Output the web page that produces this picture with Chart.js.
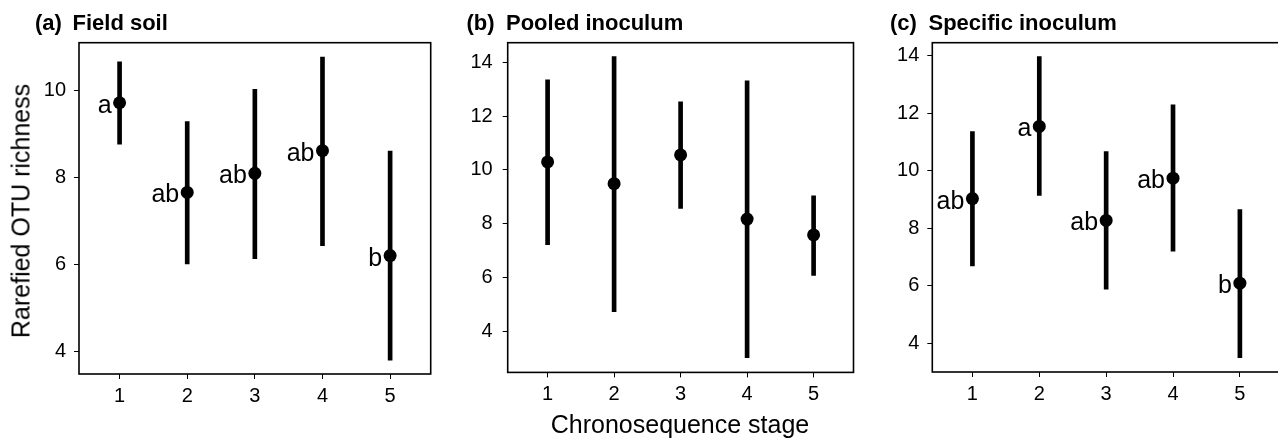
<!DOCTYPE html>
<html lang="en">
<head>
<meta charset="UTF-8">
<title>Rarefied OTU richness by chronosequence stage</title>
<script src="https://cdn.jsdelivr.net/npm/chart.js"></script>
<style>
  body { margin: 0; background: #fff; overflow: hidden; }
  #wrap { position: relative; width: 1278px; height: 439px; overflow: hidden;
          font-family: "Liberation Sans", Arial, sans-serif; color: #000; }
  canvas { position: absolute; top: 0; }
  .t { position: absolute; top: 12px; font-weight: bold; font-size: 22px; line-height: 22px; white-space: nowrap; }
  .axis { position: absolute; font-size: 25px; line-height: 25px; white-space: nowrap; }
</style>
</head>
<body>
<div id="wrap">
  <canvas id="panelA" width="440" height="439" style="left:0px"></canvas>
  <canvas id="panelB" width="420" height="439" style="left:440px"></canvas>
  <canvas id="panelC" width="430" height="439" style="left:860px"></canvas>

  <div class="t" style="left:35px">(a)</div>
  <div class="t" style="left:72.5px">Field soil</div>
  <div class="t" style="left:466.5px">(b)</div>
  <div class="t" style="left:506px">Pooled inoculum</div>
  <div class="t" style="left:890px">(c)</div>
  <div class="t" style="left:928.5px">Specific inoculum</div>

  <div class="axis" style="left:21px; top:211px; transform: translate(-50%, -50%) rotate(-90deg);">Rarefied OTU richness</div>
  <div class="axis" style="left:680px; top:411.5px; transform: translateX(-50%);">Chronosequence stage</div>
</div>

<script>
  // chronosequence stages (x) and the tick labels used on every panel
  var stages = [1, 2, 3, 4, 5];
  var stageTicks = [1, 2, 3, 4, 5];

  // (a) field soil: mean and interval ends, letters from the post-hoc test
  var fieldMean = [9.72, 7.66, 8.10, 8.62, 6.21];
  var fieldLow = [8.77, 6.02, 6.14, 6.44, 3.81];
  var fieldHigh = [10.66, 9.29, 10.03, 10.77, 8.61];
  var fieldLetters = ['a', 'ab', 'ab', 'ab', 'b'];
  var fieldTicks = [4, 6, 8, 10];

  // (b) pooled inoculum
  var pooledMean = [10.30, 9.49, 10.56, 8.17, 7.58];
  var pooledLow = [7.22, 4.72, 8.57, 3.01, 6.07];
  var pooledHigh = [13.36, 14.22, 12.54, 13.32, 9.04];
  var pooledTicks = [4, 6, 8, 10, 12, 14];

  // (c) specific inoculum
  var specificMean = [9.03, 11.54, 8.27, 9.74, 6.09];
  var specificLow = [6.69, 9.14, 5.88, 7.20, 3.50];
  var specificHigh = [11.36, 13.97, 10.66, 12.29, 8.65];
  var specificLetters = ['ab', 'a', 'ab', 'ab', 'b'];
  var specificTicks = [4, 6, 8, 10, 12, 14];

  var FONT = '"Liberation Sans", Arial, sans-serif';

  // box round the plot area
  var framePlugin = {
    id: 'frame',
    afterDraw: function (chart) {
      var a = chart.chartArea, ctx = chart.ctx;
      ctx.save();
      ctx.strokeStyle = '#000';
      ctx.lineWidth = 1.6;
      ctx.strokeRect(a.left, a.top, a.right - a.left, a.bottom - a.top);
      ctx.restore();
    }
  };

  // significance letters, placed left of each mean
  function letterPlugin(letters, means) {
    return {
      id: 'letters',
      afterDatasetsDraw: function (chart) {
        var ctx = chart.ctx, xs = chart.scales.x, ys = chart.scales.y;
        ctx.save();
        ctx.font = '25px ' + FONT;
        ctx.fillStyle = '#000';
        ctx.textAlign = 'right';
        ctx.textBaseline = 'alphabetic';
        letters.forEach(function (t, i) {
          ctx.fillText(t, xs.getPixelForValue(stages[i]) - 8, ys.getPixelForValue(means[i]) + 10);
        });
        ctx.restore();
      }
    };
  }

  function makePanel(id, mean, low, high, letters, yMin, yMax, yTicks, yWidth, xHeight, padRight, yPad) {
    var points = stages.map(function (s, i) { return { x: s, y: mean[i] }; });
    var bars = stages.map(function (s, i) { return { x: s, y: [low[i], high[i]] }; });
    var plugins = [framePlugin];
    if (letters) plugins.push(letterPlugin(letters, mean));

    return new Chart(document.getElementById(id), {
      type: 'scatter',
      data: {
        datasets: [
          { type: 'scatter', data: points, pointRadius: 6.5, pointHoverRadius: 6.5,
            backgroundColor: '#000', borderWidth: 0, order: 0 },
          { type: 'bar', data: bars, backgroundColor: '#000', borderWidth: 0,
            barThickness: 4, grouped: false, order: 1 }
        ]
      },
      options: {
        responsive: false,
        animation: false,
        layout: { padding: { top: 42.7, right: padRight, left: 0, bottom: 0 } },
        plugins: { legend: { display: false }, tooltip: { enabled: false } },
        scales: {
          x: {
            type: 'linear', min: 0.4, max: 5.6, offset: false, beginAtZero: false,
            afterBuildTicks: function (axis) { axis.ticks = stageTicks.map(function (v) { return { value: v }; }); },
            afterFit: function (axis) { axis.height = xHeight; },
            grid: { drawOnChartArea: false, drawTicks: true, tickLength: 5, color: '#000', lineWidth: 1, offset: false },
            border: { display: false },
            ticks: { color: '#000', font: { family: FONT, size: 20 }, padding: 5, maxRotation: 0, autoSkip: false }
          },
          y: {
            type: 'linear', min: yMin, max: yMax, beginAtZero: false,
            afterBuildTicks: function (axis) { axis.ticks = yTicks.map(function (v) { return { value: v }; }); },
            afterFit: function (axis) { axis.width = yWidth; },
            grid: { drawOnChartArea: false, drawTicks: true, tickLength: 5, color: '#000', lineWidth: 1 },
            border: { display: false },
            ticks: { color: '#000', font: { family: FONT, size: 20 }, padding: yPad }
          }
        }
      },
      plugins: plugins
    });
  }

  makePanel('panelA', fieldMean, fieldLow, fieldHigh, fieldLetters, 3.49, 11.1, fieldTicks, 79, 65, 9.3, 8);
  makePanel('panelB', pooledMean, pooledLow, pooledHigh, null, 2.46, 14.74, pooledTicks, 67.7, 66.6, 4.4, 10);
  makePanel('panelC', specificMean, specificLow, specificHigh, specificLetters, 3.0, 14.45, specificTicks, 72.3, 67, 10, 8);
</script>
</body>
</html>
